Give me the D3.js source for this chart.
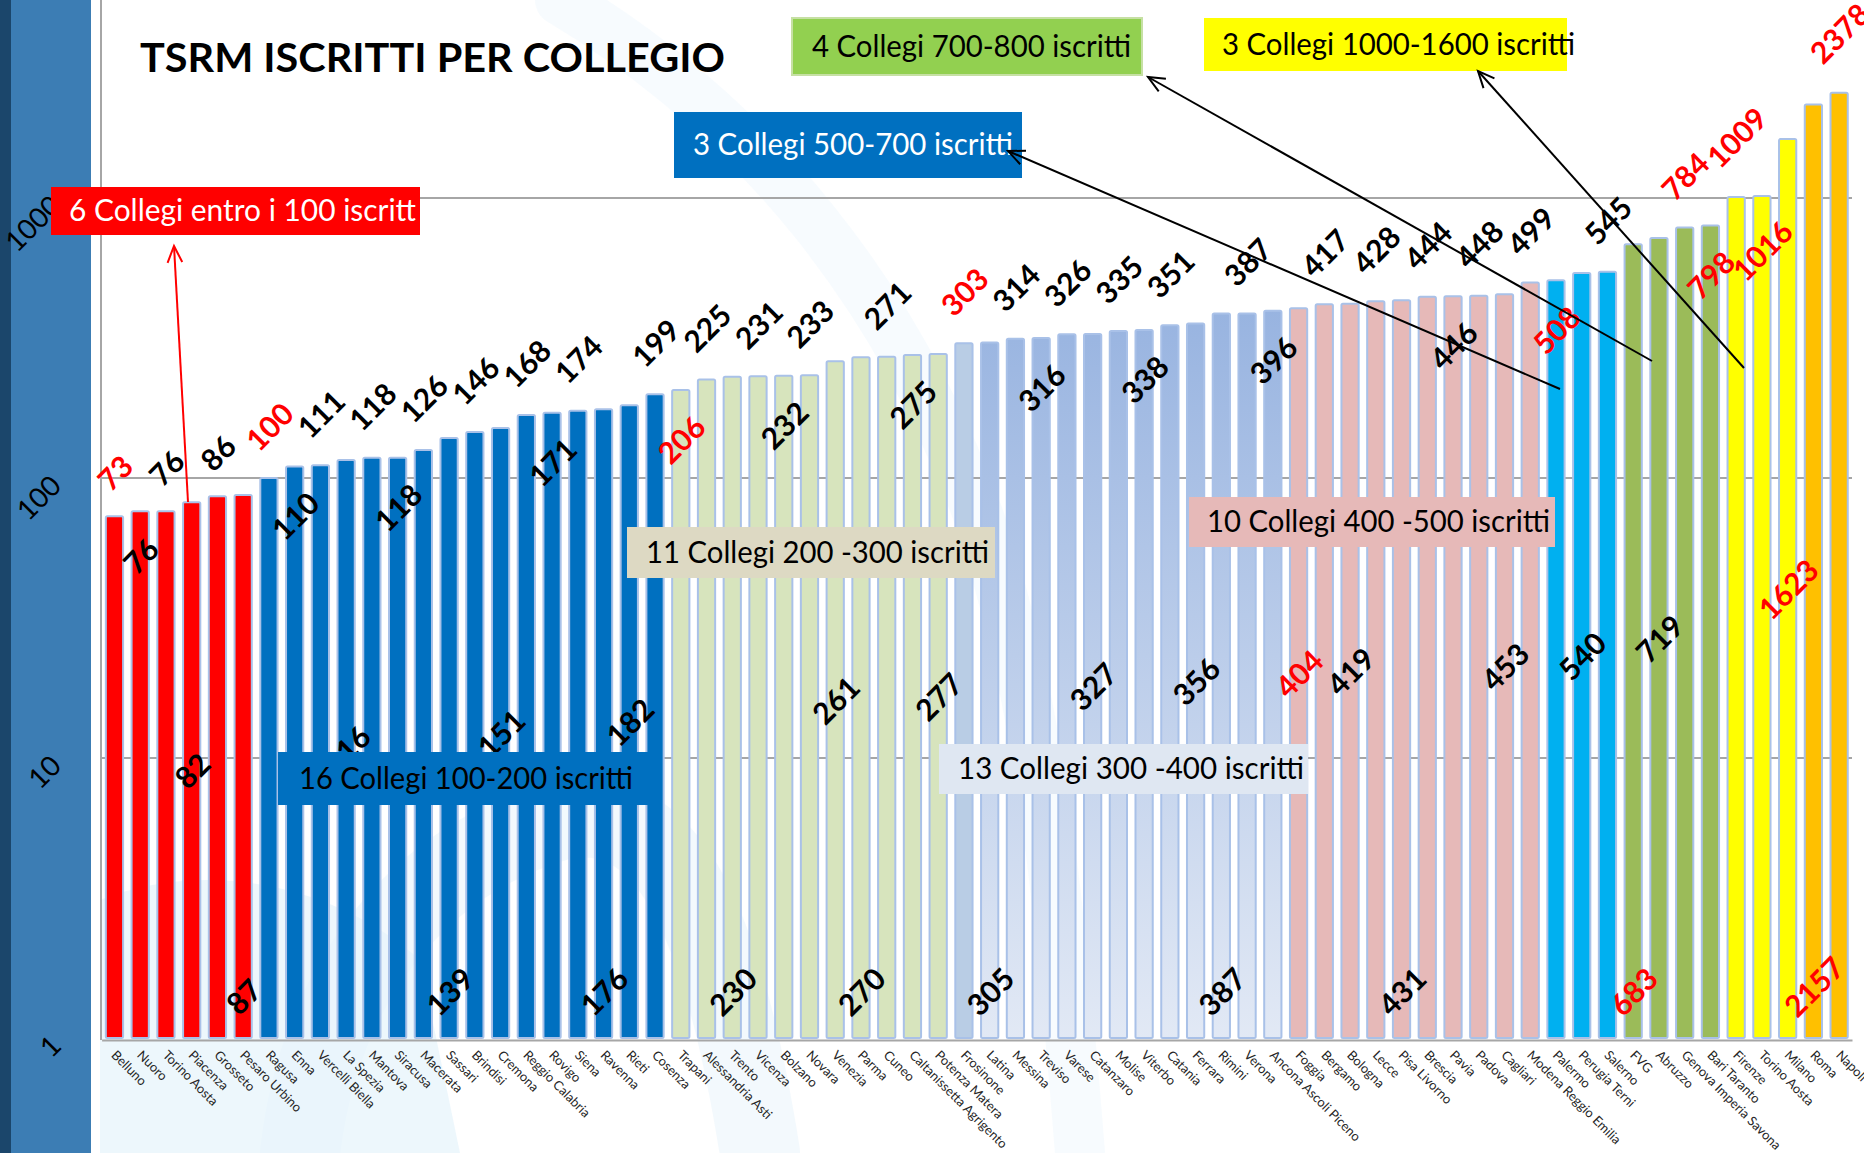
<!DOCTYPE html>
<html><head><meta charset="utf-8">
<script src="https://cdn.jsdelivr.net/npm/d3@7"></script>
<style>html,body{margin:0;padding:0;background:#fff;overflow:hidden} svg{display:block}</style>
</head><body><svg id="c" width="1864" height="1153"></svg>
<script>
// ---------------- DATA ----------------
const title = "TSRM ISCRITTI PER COLLEGIO";
const categories = ["Belluno","Nuoro","Torino Aosta","Piacenza","Grosseto","Pesaro Urbino",
 "Ragusa","Enna","Vercelli Biella","La Spezia","Mantova","Siracusa","Macerata","Sassari","Brindisi","Cremona","Reggio Calabria","Rovigo","Siena","Ravenna","Rieti","Cosenza",
 "Trapani","Alessandria Asti","Trento","Vicenza","Bolzano","Novara","Venezia","Parma","Cuneo","Caltanissetta Agrigento","Potenza Matera",
 "Frosinone","Latina","Messina","Treviso","Varese","Catanzaro","Molise","Viterbo","Catania","Ferrara","Rimini","Verona","Ancona Ascoli Piceno",
 "Foggia","Bergamo","Bologna","Lecce","Pisa Livorno","Brescia","Pavia","Padova","Cagliari","Modena Reggio Emilia",
 "Palermo","Perugia Terni","Salerno",
 "FVG","Abruzzo","Genova Imperia Savona","Bari Taranto",
 "Firenze","Torino Aosta","Milano",
 "Roma","Napoli"];
const values = [73,76,76,82,86,87,
 100,110,111,116,118,118,126,139,146,151,168,171,174,176,182,199,
 206,225,230,231,232,233,261,270,271,275,277,
 303,305,314,316,326,327,335,338,351,356,387,387,396,
 404,417,419,428,431,444,446,448,453,499,
 508,540,545,
 683,719,784,798,
 1009,1016,1623,
 2157,2378];
const groupSizes = [6,16,11,13,10,3,4,3,2];
const groupLabels = ["6 Collegi entro i 100 iscritt","16 Collegi 100-200 iscritti","11 Collegi 200 -300 iscritti",
 "13 Collegi 300 -400 iscritti","10 Collegi 400 -500 iscritti","3 Collegi 500-700 iscritti",
 "4 Collegi 700-800 iscritti","3 Collegi 1000-1600 iscritti"];
// data-label placement as in the source (o = outside end, e = inside end, c = center, b = inside base)
const labelPlacement = ["o","e","o","c","o","b",
 "o","e","o","c","o","e","o","b","o","c","o","e","o","b","c","o",
 "e","o","b","o","e","o","c","b","o","e","c",
 "o","b","o","e","o","c","o","e","o","c","b","o","e",
 "c","o","c","o","b","o","e","o","c","o",
 "e","c","o",
 "b","c","o","e",
 "o","e","c",
 "b","o"];
const highlightedLabels = [0,6,22,33,46,56,59,61,62,63,64,65,66,67];
const yTicks = [1,10,100,1000];

// ---------------- STYLE / LAYOUT ----------------
const groupColors = ["#ff0000","#0070c0","#d7e4bd","url(#lb)","#e6b9b8","#00b0f0","#9bbb59","#ffff00","#ffc000"];
const boxes = [
 {g:0, x:51, y:187, w:369, h:48, fill:"#ff0000", color:"#fff", tx:69, tw:347},
 {g:5, x:674, y:112, w:348, h:66, fill:"#0070c0", color:"#fff", tx:693, tw:320},
 {g:6, x:792, y:18, w:350, h:57, fill:"#92d050", stroke:"#c6e0a4", color:"#000", tx:812, tw:319},
 {g:7, x:1204, y:18, w:363, h:53, fill:"#ffff00", color:"#000", tx:1222, tw:353},
 {g:2, x:627, y:527, w:368, h:51, fill:"#ddd9c3", color:"#000", tx:646, tw:343},
 {g:1, x:278, y:752, w:370, h:53, fill:"#0070c0", color:"#000", tx:299, tw:334},
 {g:3, x:939, y:744, w:369, h:50, fill:"#dfe7f2", color:"#000", tx:958, tw:346},
 {g:4, x:1189, y:497, w:366, h:50, fill:"#e6b9b8", color:"#000", tx:1207, tw:343}
];
const arrows = [
 {x1:188, y1:502, x2:174, y2:246, c:"#ff0000"},
 {x1:1560, y1:389, x2:1008, y2:151, c:"#000"},
 {x1:1652, y1:361, x2:1148, y2:77, c:"#000"},
 {x1:1744, y1:368, x2:1478, y2:71, c:"#000"}
];

const svg = d3.select("#c");
const W = 1864, H = 1153;
const FONT = "Lato, 'Open Sans', 'DejaVu Sans', sans-serif";

const defs = svg.append("defs");
const lg = defs.append("linearGradient").attr("id","lb").attr("gradientUnits","userSpaceOnUse")
  .attr("x1",0).attr("x2",0).attr("y1",300).attr("y2",1040);
lg.append("stop").attr("offset","0").attr("stop-color","#97b3e0");
lg.append("stop").attr("offset","1").attr("stop-color","#e2e9f5");

svg.append("rect").attr("width",W).attr("height",H).attr("fill","#fff");

// faint watermark
const wm = svg.append("g").attr("fill","none").attr("stroke","#e8f4fb").attr("stroke-linecap","round");
wm.append("path").attr("d","M560,0 C760,120 900,300 980,520 C1040,700 1060,900 1080,1153").attr("stroke-width",50).attr("opacity",0.35);
wm.append("path").attr("d","M300,1153 C320,980 420,860 560,820 C660,800 720,900 760,1153").attr("stroke-width",80).attr("opacity",0.5);
svg.append("path").attr("d","M100,900 C200,860 330,880 420,960 L460,1153 L100,1153 Z").attr("fill","#e6f3fb").attr("opacity",0.7);

// left band
svg.append("rect").attr("x",0).attr("y",0).attr("width",91).attr("height",H).attr("fill","#3c7db4");
svg.append("rect").attr("x",0).attr("y",0).attr("width",11).attr("height",H).attr("fill","#1b466b");

// scales
const n = values.length;
const x = d3.scaleBand().domain(d3.range(n)).range([101.6,1852]).paddingInner(0.33).paddingOuter(0.165);
const y = d3.scaleLog().domain([1,10000]).range([1038,-82]);
const bw = x.bandwidth();
const cx = i => x(i) + bw/2;

const groupOf = [];
groupSizes.forEach((s,g)=>{ for(let k=0;k<s;k++) groupOf.push(g); });
const groupStart = groupSizes.map((s,g)=>d3.sum(groupSizes.slice(0,g)));

// gridlines
svg.append("g").selectAll("line").data(yTicks.slice(1)).join("line")
  .attr("x1",101).attr("x2",1852).attr("y1",d=>y(d)).attr("y2",d=>y(d))
  .attr("stroke","#a6a6a6").attr("stroke-width",2);

// bars
svg.append("g").selectAll("rect").data(values).join("rect")
  .attr("x",(d,i)=>x(i)).attr("y",d=>y(d)).attr("width",bw).attr("height",d=>y(1)-y(d))
  .attr("rx",1.5)
  .attr("fill",(d,i)=> (groupOf[i]===3 && i===groupStart[3]) ? "#b9cde5" : groupColors[groupOf[i]])
  .attr("stroke","#a9c1e8").attr("stroke-width",2);

// axes lines
svg.append("line").attr("x1",101).attr("x2",101).attr("y1",0).attr("y2",1040).attr("stroke","#a6a6a6").attr("stroke-width",2);

const xAxis = svg.append("g").attr("transform","translate(0,1040)")
  .call(d3.axisBottom(x).tickFormat(i=>categories[i]).tickSize(0).tickSizeOuter(0));
xAxis.select(".domain").attr("stroke","#a6a6a6").attr("stroke-width",2);
xAxis.selectAll("text").attr("x",0).attr("y",0).attr("dy","0.75em")
  .attr("transform","translate(3,9) rotate(45)").attr("text-anchor","start")
  .attr("font-family",FONT).attr("font-size",13).attr("fill","#262626");

const yAxis = svg.append("g").attr("transform","translate(63,0)")
  .call(d3.axisLeft(y).tickValues(yTicks).tickFormat(d3.format("d")).tickSize(0));
yAxis.select(".domain").remove();
yAxis.selectAll("text").attr("x",0).attr("dy",0).attr("text-anchor","end")
  .attr("transform","translate(0,9) rotate(-45)")
  .attr("font-family",FONT).attr("font-size",28).attr("fill","#000");

// value labels
function labelCenter(v,i){
  const nd = String(v).length, top = y(v), base = y(1);
  const p = labelPlacement[i];
  if(p==="o") return top - (28 + 8*nd);
  if(p==="e") return top + (34 + 5*nd);
  if(p==="c") return (top + base)/2;
  return base - (32 + 5*nd);
}
svg.append("g").selectAll("text").data(values).join("text")
  .attr("transform",(d,i)=>`translate(${cx(i)},${labelCenter(d,i)}) rotate(-45)`)
  .attr("text-anchor","middle").attr("dominant-baseline","central")
  .attr("font-family",FONT).attr("font-weight","bold").attr("font-size",30)
  .attr("fill",(d,i)=>highlightedLabels.includes(i) ? "#ff0000" : "#000")
  .text(d=>d);

// title
svg.append("text").attr("x",140).attr("y",72).attr("font-family",FONT).attr("font-weight","bold")
  .attr("font-size",41).attr("textLength",585).attr("lengthAdjust","spacingAndGlyphs").attr("fill","#000").text(title);

// group boxes
const bg = svg.append("g").selectAll("g").data(boxes).join("g");
bg.append("rect").attr("x",d=>d.x).attr("y",d=>d.y).attr("width",d=>d.w).attr("height",d=>d.h)
  .attr("fill",d=>d.fill).attr("stroke",d=>d.stroke||"none").attr("stroke-width",2);
bg.append("text").attr("x",d=>d.tx).attr("y",d=>d.y+d.h/2+10)
  .attr("textLength",d=>d.tw).attr("lengthAdjust","spacingAndGlyphs")
  .attr("font-family",FONT).attr("font-size",30).attr("fill",d=>d.color)
  .text(d=>groupLabels[d.g]);

// arrows
const ag = svg.append("g").selectAll("g").data(arrows).join("g");
ag.append("line").attr("x1",d=>d.x1).attr("y1",d=>d.y1).attr("x2",d=>d.x2).attr("y2",d=>d.y2)
  .attr("stroke",d=>d.c).attr("stroke-width",2);
ag.append("path").attr("fill","none").attr("stroke",d=>d.c).attr("stroke-width",2)
  .attr("d",d=>{
    const a = Math.atan2(d.y1-d.y2, d.x1-d.x2), L=18, s=0.42;
    const p1=[d.x2+L*Math.cos(a+s), d.y2+L*Math.sin(a+s)], p2=[d.x2+L*Math.cos(a-s), d.y2+L*Math.sin(a-s)];
    return `M${p1}L${d.x2},${d.y2}L${p2}`;
  });
</script></body></html>
